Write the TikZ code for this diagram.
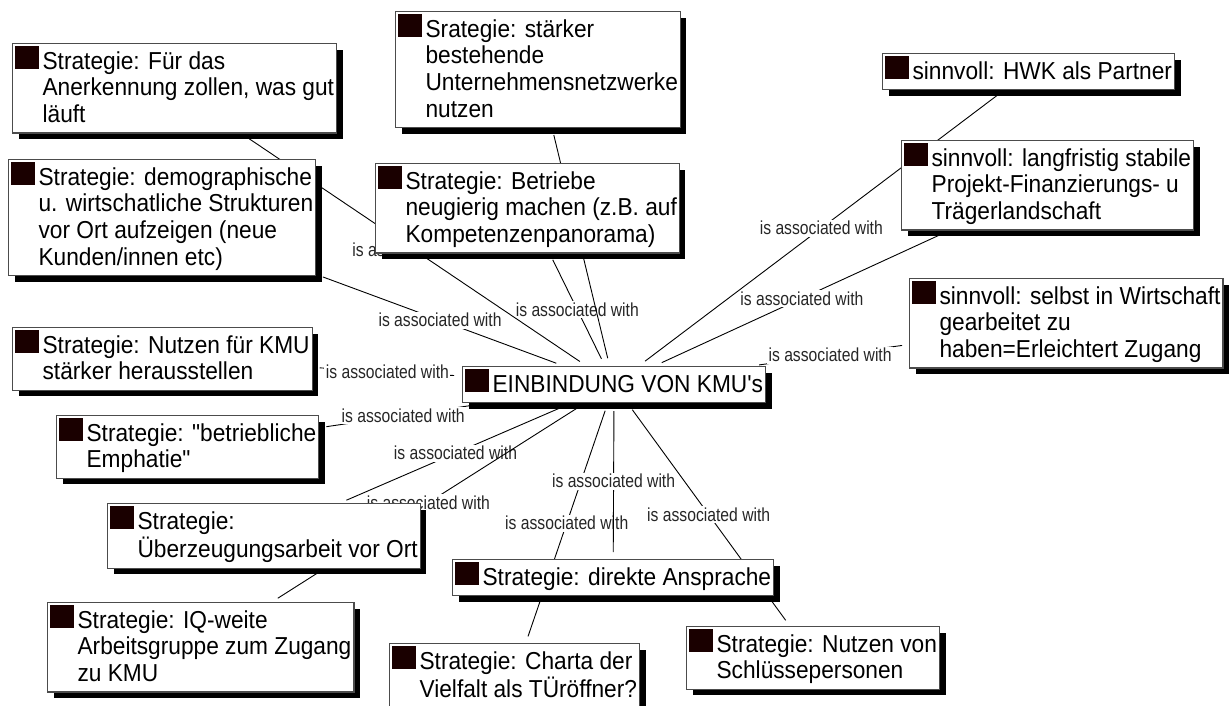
\documentclass[tikz,border=0pt]{standalone}
\usepackage{fontspec}
\usepackage{graphicx}
\setmainfont{Liberation Sans}[Ligatures=TeXOff]
\usetikzlibrary{shadows}
\definecolor{sqcol}{RGB}{26,0,0}
\pgfdeclarelayer{background}
\pgfsetlayers{background,main}
\newcommand{\bt}[1]{\scalebox{1}[1.08]{\textcolor{sqcol}{\rule{24pt}{21.3pt}}\hspace{3.5pt}\begin{tabular}[t]{@{}l@{}}#1\end{tabular}}}
\newcommand{\iaw}{\scalebox{1}[1.2]{is associated with}}
\begin{document}
\begin{tikzpicture}[x=1pt,y=-1pt,
  mbox/.style={draw=black!70, line width=1.2pt, fill=white, inner xsep=2.5pt, inner ysep=2.5pt,
    anchor=north west, font=\fontsize{22.7}{24.7}\selectfont,
    drop shadow={shadow xshift=6pt, shadow yshift=-6pt, fill=black, opacity=1}},
  edge/.style={draw=black, line width=0.9pt, shorten <=7pt, shorten >=8pt},
  lbl/.style={font=\fontsize{15.7}{18}\selectfont, fill=white, inner sep=1.5pt, text=black!85}]
\useasboundingbox (0,0) rectangle (1229,706);
% nodes
\node[mbox] (fuer) at (12,43) {\bt{Strategie: Für das\\Anerkennung zollen, was gut\\läuft}};
\node[mbox] (demo) at (8,159) {\bt{Strategie: demographische\\u. wirtschatliche Strukturen\\vor Ort aufzeigen (neue\\Kunden/innen etc)}};
\node[mbox] (staerker) at (395,11) {\bt{Srategie: stärker\\bestehende\\Unternehmensnetzwerke\\nutzen}};
\node[mbox] (betriebe) at (375,163) {\bt{Strategie: Betriebe\\neugierig machen (z.B. auf\\Kompetenzenpanorama)}};
\node[mbox] (hwk) at (882,53) {\bt{sinnvoll: HWK als Partner}};
\node[mbox] (lang) at (901,140) {\bt{sinnvoll: langfristig stabile\\Projekt-Finanzierungs- u\\Trägerlandschaft}};
\node[mbox] (selbst) at (909,278) {\bt{sinnvoll: selbst in Wirtschaft\\gearbeitet zu\\haben=Erleichtert Zugang}};
\node[mbox] (nutzen) at (12,327) {\bt{Strategie: Nutzen für KMU\\stärker herausstellen}};
\node[mbox] (emph) at (56,415) {\bt{Strategie: "betriebliche\\Emphatie"}};
\node[mbox] (ueber) at (107,503) {\bt{Strategie:\\Überzeugungsarbeit vor Ort}};
\node[mbox] (iq) at (47,602) {\bt{Strategie: IQ-weite\\Arbeitsgruppe zum Zugang\\zu KMU}};
\node[mbox] (center) at (462,366) {\bt{EINBINDUNG VON KMU's}};
\node[mbox] (direkt) at (452,559) {\bt{Strategie: direkte Ansprache}};
\node[mbox] (charta) at (389,643) {\bt{Strategie: Charta der\\Vielfalt als TÜröffner?}};
\node[mbox] (schl) at (686,626) {\bt{Strategie: Nutzen von\\Schlüssepersonen}};
% connectors
\begin{pgfonlayer}{background}
\fill[white] (0,0) rectangle (1229,706);
\draw[edge] (lang) -- node[lbl]{\iaw} (center);
\draw[edge] (hwk) -- node[lbl]{\iaw} (center);
\draw[edge] (betriebe) -- node[lbl]{\iaw} (center);
\draw[edge] (fuer) -- node[lbl]{\iaw} (center);
\draw[edge] (staerker) -- node[lbl]{\iaw} (center);
\draw[edge] (demo) -- node[lbl]{\iaw} (center);
\draw[edge] (nutzen) -- node[lbl]{\iaw} (center);
\draw[edge] (emph) -- node[lbl]{\iaw} (center);
\draw[edge] (selbst) -- node[lbl]{\iaw} (center);
\draw[edge] (ueber) -- node[lbl]{\iaw} (center);
\draw[edge] (iq) -- node[lbl]{\iaw} (center);
\draw[edge] (charta) -- node[lbl]{\iaw} (center);
\draw[edge] (direkt) -- node[lbl]{\iaw} (center);
\draw[edge] (schl) -- node[lbl]{\iaw} (center);
\end{pgfonlayer}
\end{tikzpicture}
\end{document}
